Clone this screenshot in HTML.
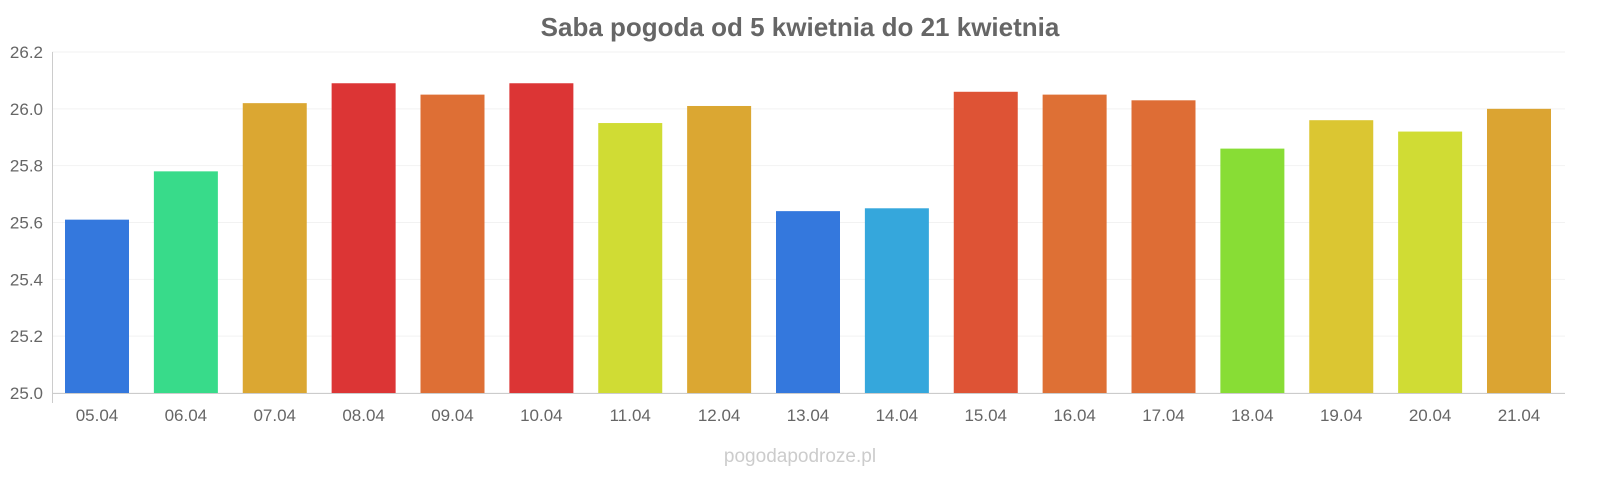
<!DOCTYPE html>
<html><head><meta charset="utf-8"><style>
html,body{margin:0;padding:0;background:#fff;width:1600px;height:480px;overflow:hidden}
svg{display:block;font-family:"Liberation Sans",sans-serif}
</style></head><body>
<svg id="c" width="1600" height="480" xmlns="http://www.w3.org/2000/svg">
<text x="800" y="36" text-anchor="middle" font-size="26" font-weight="bold" fill="#666">Saba pogoda od 5 kwietnia do 21 kwietnia</text>
<text x="800" y="462" text-anchor="middle" font-size="19" fill="#ccc">pogodapodroze.pl</text>
<g id="g"></g>
</svg>
<script>
var vals=[25.61,25.78,26.02,26.09,26.05,26.09,25.95,26.01,25.64,25.65,26.06,26.05,26.03,25.86,25.96,25.92,26.00];
var cols=["#3478dd","#38db8a","#dba732","#dc3535","#de6f35","#dc3535","#d0dc34","#dba732","#3478dd","#35a7dc","#de5335","#de7035","#de6d35","#88dd35","#dbc632","#d0dc34","#dba432"];
var labs=["05.04","06.04","07.04","08.04","09.04","10.04","11.04","12.04","13.04","14.04","15.04","16.04","17.04","18.04","19.04","20.04","21.04"];
var s="";
function y(v){return 393-(v-25)*284.17;}
for(var i=0;i<=6;i++){var v=25+i*0.2,yy=y(v);
s+='<line x1="52" x2="1565" y1="'+yy+'" y2="'+yy+'" stroke="#f2f2f2"/>';
s+='<text x="43" y="'+(yy+6)+'" text-anchor="end" font-size="17" fill="#666">'+v.toFixed(1)+'</text>';}
s+='<line x1="52.5" x2="52.5" y1="52" y2="403" stroke="#ccc"/>';
s+='<line x1="52" x2="1565" y1="393.5" y2="393.5" stroke="#ccc"/>';
for(var i=0;i<17;i++){var cx=97+i*88.875,t=y(vals[i]);
s+='<rect x="'+(cx-32)+'" y="'+t+'" width="64" height="'+(393-t)+'" fill="'+cols[i]+'"/>';
s+='<text x="'+cx+'" y="421" text-anchor="middle" font-size="17" fill="#666">'+labs[i]+'</text>';}
document.getElementById("g").innerHTML=s;
</script>
</body></html>
